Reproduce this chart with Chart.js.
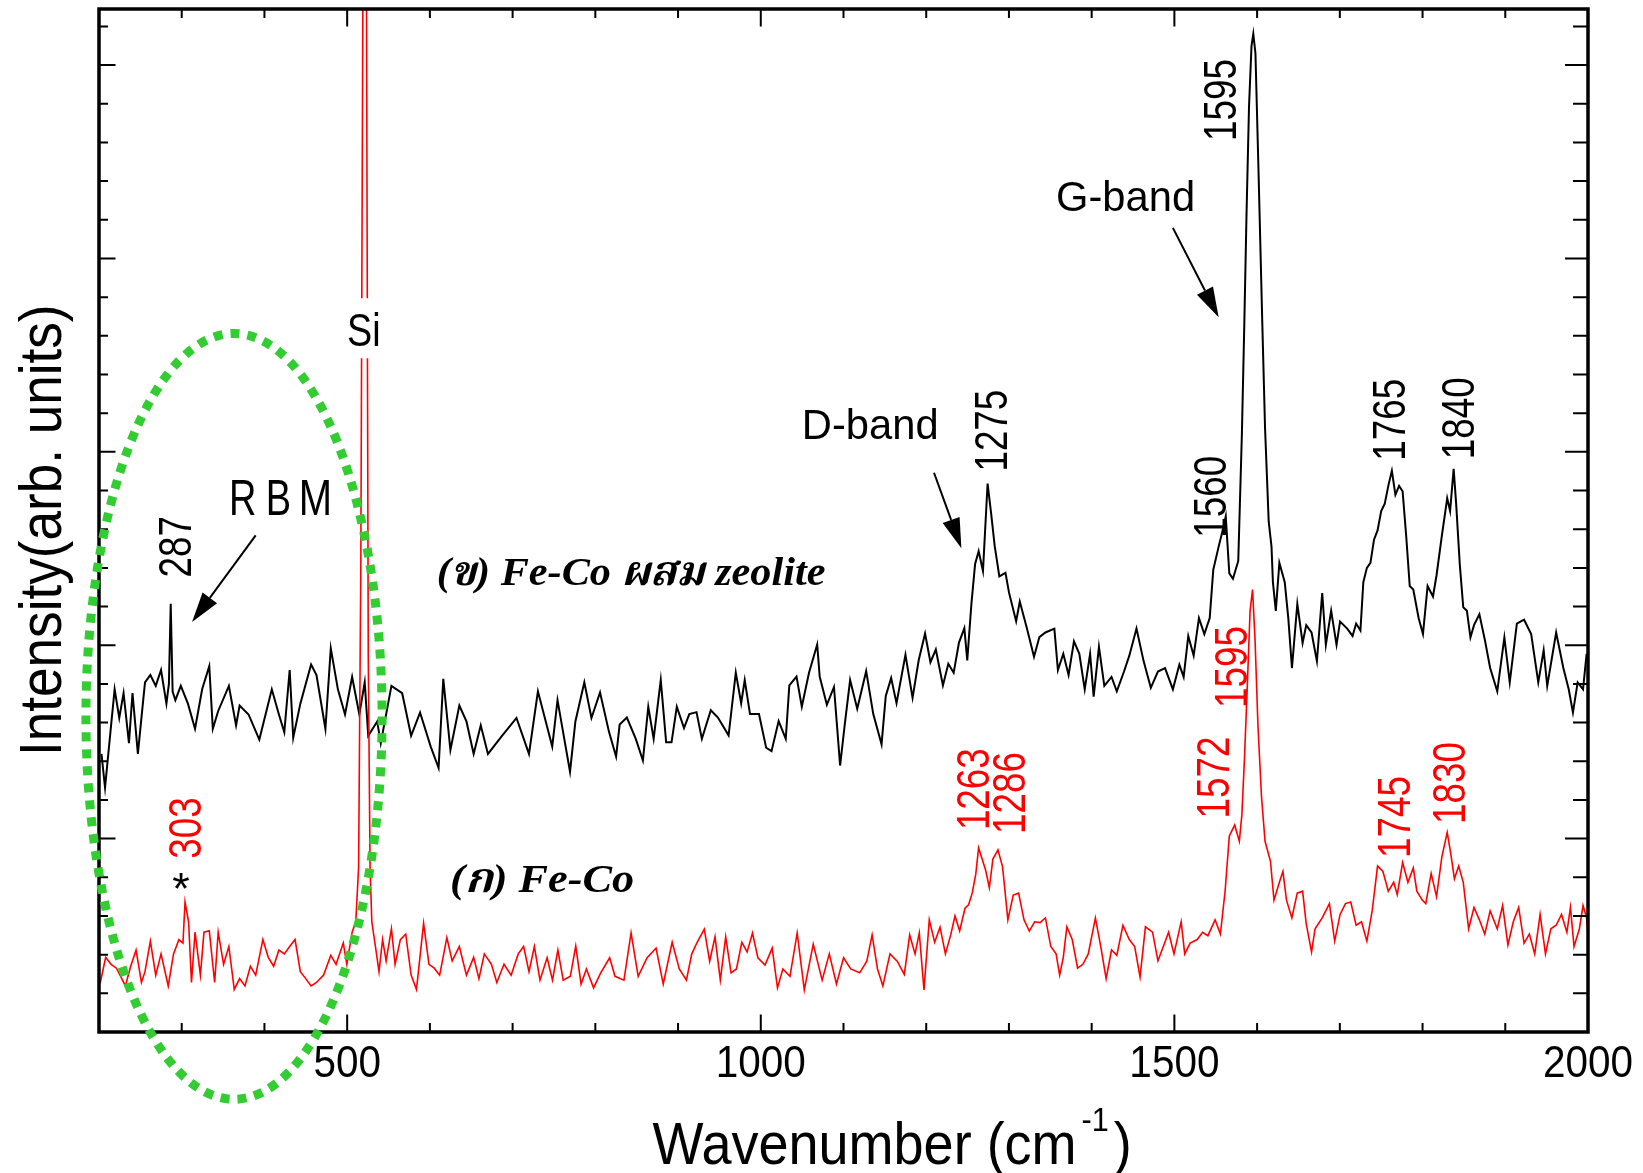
<!DOCTYPE html>
<html>
<head>
<meta charset="utf-8">
<script src="https://cdn.jsdelivr.net/npm/chart.js@4.4.1/dist/chart.umd.min.js"></script>
<style>
  html, body { margin: 0; padding: 0; background: #fff; }
  canvas { display: block; }
</style>
</head>
<body>
<canvas id="raman" width="1643" height="1173"></canvas>
<script>
// (ข) Fe-Co ผสม zeolite, black trace
const blackWn = [203, 207.3, 214.6, 218.9, 224.5, 229.7, 236.2, 240.5, 247, 251.3, 255.6, 262.1, 268.6, 275, 281.5, 284.5, 286.7, 289, 292.3, 298.9,
  307.5, 316.1, 324.7, 333.3, 337.6, 344.1, 357, 365.7, 370, 380.8, 393.8, 402.4, 408.9, 417.5, 424, 430.5, 434.8, 443.4, 456.4, 462.9,
  473.7, 480.2, 488.8, 497.4, 506, 514.7, 521.2, 525.5, 536.3, 540.6, 553.5, 566.5, 577.3, 588.1, 601, 610.5, 616.2, 624.8, 635.6, 644.2,
  652.9, 661.5, 670.2, 687.4, 704.7, 719.8, 730.6, 747.9, 754.3, 769.4, 775.9, 786.7, 795.3, 805.7, 816.5, 825.1, 829.4, 838.1, 848.9, 857.5,
  864, 870.5, 879.1, 885.6, 892.1, 898.5, 907.2, 913.6, 922.3, 928.8, 939.6, 948.2, 961.1, 969.8, 976.3, 980.6, 987, 997.8, 1006.5, 1013,
  1021.6, 1030.2, 1034.5, 1043.2, 1049.6, 1058.3, 1068.2, 1071.2, 1079.9, 1088.5, 1095.9, 1101.5, 1108, 1116.6, 1127.4, 1136, 1146, 1151.1, 1157.6, 1164.1,
  1174.9, 1183.5, 1190.9, 1198.6, 1205.1, 1211.6, 1220.2, 1226.7, 1233.2, 1239.6, 1246.1, 1249.6, 1254.7, 1259.1, 1263.4, 1268.6, 1274.2, 1278.5, 1282.8, 1288.4,
  1295.8, 1300.1, 1308.7, 1313.1, 1321.7, 1330.3, 1336.8, 1344.1, 1354.9, 1359.2, 1365.7, 1372.1, 1378.6, 1385.1, 1391.6, 1398.1, 1402.4, 1408.8, 1415.3, 1424,
  1430.4, 1439.1, 1445.5, 1454.2, 1462.8, 1471.5, 1480.1, 1488.7, 1498.2, 1506, 1511.2, 1516.8, 1523.3, 1529.7, 1536.2, 1542.7, 1547, 1553.5, 1557.8, 1562.1,
  1566.4, 1570.8, 1577.2, 1581.6, 1584.6, 1587.2, 1590.2, 1593.2, 1595.4, 1598, 1601.8, 1606.2, 1609.6, 1614, 1617.4, 1619.1, 1622.6, 1626.9, 1633.4, 1637.7,
  1642.1, 1648.6, 1655, 1659.4, 1665.8, 1672.3, 1678.7, 1683.1, 1689.5, 1696, 1700.3, 1708.9, 1715.4, 1719.7, 1724.9, 1728.4, 1732.7, 1737, 1741.3, 1745.6,
  1750, 1754.3, 1758.6, 1762.9, 1767.2, 1771.6, 1775.9, 1780.2, 1784.5, 1788.8, 1795.3, 1800.5, 1806.1, 1812.6, 1816.9, 1823.3, 1829.8, 1833.3, 1837.6, 1840.6,
  1845, 1849.2, 1853.6, 1857.9, 1862.2, 1868.7, 1875.2, 1881.7, 1890.3, 1898.9, 1905.4, 1914, 1922.7, 1931.3, 1939.9, 1946.4, 1950.7, 1961.5, 1970.2, 1976.7,
  1981.8, 1987.5, 1994, 1998.3];
const blackInt = [7.19, 6.32, 7.93, 8.86, 8.12, 8.76, 7.47, 8.76, 7.19, 8.12, 9.04, 9.23, 8.95, 9.36, 8.49, 9.0, 11.07, 8.8, 8.58, 8.95,
  8.49, 7.84, 8.86, 9.46, 7.84, 8.30, 8.95, 7.93, 8.44, 8.21, 7.56, 8.30, 8.86, 8.21, 7.75, 9.36, 7.61, 8.49, 9.50, 9.23,
  7.84, 9.92, 8.86, 8.21, 9.18, 8.21, 9.04, 7.66, 8.03, 7.47, 8.95, 8.76, 7.66, 8.26, 7.38, 6.83, 9.13, 7.29, 8.44, 8.03,
  7.19, 7.93, 7.19, 7.66, 8.12, 7.19, 8.81, 7.38, 8.58, 6.73, 8.03, 9.04, 8.12, 8.78, 7.76, 7.12, 7.95, 8.13, 7.58, 7.02,
  8.41, 7.58, 9.10, 7.49, 7.49, 8.41, 7.86, 8.22, 8.27, 7.58, 8.32, 8.13, 7.67, 9.29, 8.50, 9.10, 8.22, 8.22, 7.35, 7.26,
  8.04, 7.58, 8.96, 9.19, 8.41, 9.29, 10.02, 9.19, 8.46, 8.92, 6.89, 7.95, 9.10, 8.36, 9.33, 8.22, 7.44, 8.69, 9.15, 8.50,
  9.75, 8.64, 9.61, 10.30, 9.56, 9.89, 8.96, 9.52, 9.29, 10.07, 10.44, 9.61, 11.09, 12.10, 12.43, 11.92, 14.18, 13.40, 12.56, 11.78,
  11.87, 11.36, 10.62, 11.13, 10.44, 9.70, 10.21, 10.33, 10.43, 9.36, 9.78, 9.23, 10.10, 9.78, 8.86, 9.78, 8.67, 9.96, 8.95, 9.18,
  8.81, 9.32, 9.73, 10.43, 9.59, 8.90, 9.32, 9.41, 8.86, 9.50, 9.18, 10.24, 9.73, 10.70, 10.29, 10.70, 11.95, 12.55, 12.92, 13.33,
  11.86, 11.72, 12.18, 15.47, 18.38, 21.15, 23.92, 25.49, 25.81, 25.30, 22.17, 18.38, 15.61, 13.20, 12.55, 11.63, 10.89, 12.13, 11.63, 10.70,
  9.41, 11.07, 10.06, 10.52, 10.33, 9.59, 11.35, 10.01, 10.89, 10.01, 10.61, 10.43, 10.24, 10.56, 10.38, 11.63, 12.0, 12.13, 12.73, 12.97,
  13.47, 13.66, 14.12, 14.51, 13.89, 14.12, 13.98, 12.83, 11.53, 11.44, 10.70, 10.29, 11.53, 11.26, 11.81, 12.83, 13.80, 13.47, 14.56, 13.66,
  12.09, 10.98, 10.89, 10.20, 10.52, 10.80, 10.15, 9.41, 8.81, 10.20, 9.04, 10.56, 10.66, 10.29, 9.04, 9.87, 8.95, 10.33, 9.41, 8.86,
  8.26, 9.04, 8.86, 9.78];

// (ก) Fe-Co, red trace (Si line at ~520 runs off the top)
const redWn = [200, 201.6, 208.1, 214.6, 221.1, 225.4, 231.9, 238.3, 244.8, 251.3, 255.6, 262.1, 268.6, 275, 283.7, 290.1, 296.6, 301.5, 304, 308.3,
  311.8, 316.1, 322.6, 326.9, 333.3, 339.8, 344.1, 350.6, 357, 363.5, 370, 376.5, 383, 389.4, 398.1, 404.6, 411.1, 417.5, 424, 430.5,
  437, 443.4, 449.9, 456.4, 462.9, 471.5, 480.2, 486.6, 495.3, 499.6, 506, 510.4, 513.8, 516.5, 519.2, 521.2, 523.2, 525.5, 527.7, 529.8,
  534.2, 538.5, 542.8, 547.1, 553.5, 557.9, 564.3, 570.8, 577.3, 583.8, 592.4, 598.9, 605.3, 611.8, 620.5, 626.9, 635.6, 644.2, 652.9, 659.3,
  665.8, 674.4, 680.9, 689.6, 698.2, 706.8, 713.3, 719.8, 726.3, 733.1, 741.7, 748.2, 754.7, 761.2, 769.8, 776.3, 782.8, 789.2, 797.9, 806.5,
  817.3, 823.8, 834.6, 843.2, 851.8, 862.6, 873.4, 882.1, 892.9, 901.5, 910.1, 916.6, 923.1, 931.7, 938.2, 944.7, 951.1, 957.6, 964.1, 970.6,
  977.1, 983.5, 990, 996.5, 1005.1, 1013.8, 1020.2, 1026.7, 1035.3, 1044, 1052.6, 1063.4, 1074.2, 1082.8, 1091.5, 1100.1, 1108.7, 1119.5, 1128.2, 1134.6,
  1141.1, 1147.6, 1156.2, 1164.9, 1173.5, 1180, 1186.5, 1191.6, 1197.3, 1203.7, 1210.2, 1216.7, 1223.2, 1229.6, 1234.8, 1240.4, 1246.9, 1251.2, 1255.6, 1259.9,
  1263.3, 1267.6, 1272, 1276.3, 1280.6, 1286.7, 1292.3, 1298.7, 1305.2, 1311.7, 1318.2, 1324.6, 1331.1, 1337.6, 1344.1, 1350.6, 1357, 1361.3, 1365.7, 1370,
  1376.5, 1383, 1389.4, 1395.9, 1404.5, 1411, 1417.5, 1424, 1430.4, 1437.8, 1445.5, 1452, 1458.5, 1465, 1473.6, 1480.1, 1486.6, 1493, 1499.5, 1508.2,
  1512.5, 1519, 1527.6, 1534.1, 1540.5, 1549.2, 1555.6, 1561.3, 1566.4, 1572.9, 1578.5, 1581.6, 1584.6, 1588, 1591.5, 1594.5, 1597.5, 1601, 1605.3, 1609.6,
  1616.1, 1620.4, 1626.9, 1631.2, 1635.5, 1642, 1648.5, 1655, 1659.3, 1665.8, 1670.1, 1678.7, 1687.4, 1693.8, 1700.3, 1706.8, 1713.2, 1719.7, 1726.2, 1732.7,
  1739.1, 1745.6, 1752.1, 1758.6, 1765.1, 1769.4, 1775.9, 1782.3, 1788.8, 1793.1, 1799.6, 1803.9, 1810.4, 1816.9, 1823.3, 1829.8, 1834.1, 1838.5, 1843.7, 1849.2,
  1855.7, 1862.2, 1868.7, 1875.2, 1881.7, 1890.3, 1896.8, 1903.2, 1909.7, 1916.2, 1922.7, 1929.1, 1935.6, 1942.1, 1948.6, 1955.1, 1961.5, 1968, 1974.5, 1978.8,
  1983.1, 1989.6, 1994, 1998.3, 2000];
const redInt = [1.30, 1.28, 1.93, 1.75, 1.65, 1.47, 1.19, 1.70, 2.12, 1.28, 1.56, 2.35, 1.47, 2.02, 1.19, 2.02, 2.39, 2.30, 3.36, 2.85,
  1.28, 2.58, 1.47, 2.58, 2.62, 1.28, 2.58, 1.75, 2.21, 1.10, 1.38, 1.19, 1.70, 1.47, 2.39, 1.93, 1.70, 2.12, 2.02, 2.21,
  2.39, 1.56, 1.38, 1.19, 1.28, 1.47, 1.98, 1.75, 2.30, 1.75, 2.58, 2.85, 4.24, 12.0, 28.0, 60.0, 28.0, 9.78, 4.24, 2.85,
  2.21, 1.56, 2.39, 1.84, 2.67, 1.75, 2.39, 2.53, 1.47, 1.10, 2.81, 1.75, 1.65, 1.47, 2.44, 1.84, 2.21, 1.47, 1.93, 1.38,
  2.02, 1.75, 1.28, 1.75, 1.47, 2.02, 2.21, 1.56, 2.21, 1.34, 1.92, 1.34, 2.12, 1.34, 1.44, 2.22, 1.24, 1.63, 1.14, 1.53,
  1.92, 1.44, 1.34, 2.56, 1.44, 1.92, 2.17, 1.24, 2.32, 1.63, 1.34, 2.02, 2.32, 2.66, 1.83, 2.46, 1.34, 2.46, 1.53, 1.63,
  2.32, 2.07, 2.56, 1.92, 1.73, 2.17, 1.14, 1.63, 1.44, 2.56, 1.09, 2.27, 1.34, 2.02, 1.24, 1.92, 1.63, 1.53, 1.83, 2.51,
  1.63, 1.19, 2.02, 1.83, 1.49, 2.51, 2.02, 2.56, 1.09, 2.90, 2.32, 2.71, 2.02, 2.51, 3.00, 2.61, 3.20, 3.29, 3.59, 4.08,
  4.76, 4.47, 4.17, 3.73, 4.47, 4.71, 4.27, 2.90, 3.54, 3.59, 2.90, 2.61, 2.85, 2.83, 2.95, 2.21, 2.02, 1.47, 1.93, 2.72,
  2.39, 1.65, 1.75, 2.02, 2.95, 2.21, 1.38, 2.12, 1.98, 2.76, 2.39, 2.21, 1.42, 2.72, 2.58, 1.84, 2.21, 2.58, 2.02, 2.85,
  2.02, 2.30, 2.39, 2.58, 2.49, 2.90, 2.53, 3.64, 5.07, 5.35, 4.93, 5.62, 7.01, 8.86, 10.89, 11.44, 10.15, 7.93, 6.09, 4.93,
  4.42, 3.41, 3.87, 4.15, 3.41, 2.95, 3.59, 3.64, 2.81, 2.07, 2.67, 2.95, 3.32, 2.35, 3.04, 3.32, 3.36, 2.76, 2.85, 2.35,
  3.13, 4.29, 4.15, 3.64, 3.87, 3.55, 4.38, 3.87, 4.24, 3.64, 3.41, 3.32, 4.10, 3.50, 4.52, 5.16, 4.61, 3.96, 4.29, 3.87,
  2.67, 3.22, 2.90, 2.53, 3.13, 2.67, 3.27, 2.25, 2.85, 3.22, 2.30, 2.53, 2.02, 3.04, 2.02, 2.67, 2.76, 3.04, 2.58, 3.22,
  2.21, 2.67, 3.27, 2.95, 2.49];

// axis ticks
const xTicks = [300, 400, 500, 600, 700, 800, 900, 1000, 1100, 1200, 1300, 1400, 1500, 1600, 1700, 1800, 1900];
const xLabels = [500, 1000, 1500, 2000];
const yTicks = [1, 2, 3, 4, 5, 6, 7, 8, 9, 10, 11, 12, 13, 14, 15, 16, 17, 18, 19, 20, 21, 22, 23, 24, 25, 26];

// peak labels, anchored at the start of the rotated text (wavenumber, intensity)
const peakLabels = [
  { t: '287', x: 311.7, y: 11.75, c: '#000' },
  { t: '303', x: 323.8, y: 4.48, c: '#ff0000' },
  { t: '1275', x: 1297.7, y: 14.49, c: '#000' },
  { t: '1595', x: 1575, y: 23.04, c: '#000' },
  { t: '1560', x: 1562, y: 12.78, c: '#000' },
  { t: '1765', x: 1778.8, y: 14.77, c: '#000' },
  { t: '1840', x: 1862.2, y: 14.81, c: '#000' },
  { t: '1595', x: 1587.8, y: 8.38, c: '#ff0000' },
  { t: '1572', x: 1566, y: 5.52, c: '#ff0000' },
  { t: '1745', x: 1784.4, y: 4.50, c: '#ff0000' },
  { t: '1830', x: 1851.3, y: 5.38, c: '#ff0000' },
  { t: '1263', x: 1275.9, y: 5.22, c: '#ff0000' },
  { t: '1286', x: 1319.4, y: 5.12, c: '#ff0000' }
];

const SANS = '"Liberation Sans", Arial, Helvetica, sans-serif';
const SERIF = '"Liberation Serif", "Times New Roman", "Noto Serif Thai", "Noto Sans Thai", Loma, Garuda, Norasi, serif';

function txt(ctx, s, x, y, o) {
  ctx.save();
  ctx.translate(x, y);
  if (o.rot) ctx.rotate(o.rot);
  ctx.scale(o.sx || 1, 1);
  ctx.font = (o.font || '') + ' ' + o.size + 'px ' + (o.family || SANS);
  ctx.fillStyle = o.color || '#000';
  ctx.textAlign = o.align || 'left';
  ctx.textBaseline = 'alphabetic';
  ctx.fillText(s, 0, 0);
  ctx.restore();
}

function textWidth(ctx, s, o) {
  ctx.save();
  ctx.font = (o.font || '') + ' ' + o.size + 'px ' + (o.family || SANS);
  const w = ctx.measureText(s).width * (o.sx || 1);
  ctx.restore();
  return w;
}

function arrow(ctx, x1, y1, x2, y2) {
  const ang = Math.atan2(y2 - y1, x2 - x1);
  const len = 30, hw = 9;
  const bx = x2 - len * Math.cos(ang), by = y2 - len * Math.sin(ang);
  ctx.save();
  ctx.strokeStyle = '#000';
  ctx.lineWidth = 2;
  ctx.beginPath();
  ctx.moveTo(x1, y1);
  ctx.lineTo(bx, by);
  ctx.stroke();
  ctx.fillStyle = '#000';
  ctx.beginPath();
  ctx.moveTo(x2, y2);
  ctx.lineTo(bx + hw * Math.sin(ang), by - hw * Math.cos(ang));
  ctx.lineTo(bx - hw * Math.sin(ang), by + hw * Math.cos(ang));
  ctx.closePath();
  ctx.fill();
  ctx.restore();
}

const overlay = {
  id: 'overlay',
  afterDraw(chart) {
    const { ctx, chartArea: a } = chart;
    const xs = chart.scales.x, ys = chart.scales.y;
    const px = v => xs.getPixelForValue(v);
    const py = v => ys.getPixelForValue(v);

    // Si label on a white patch over the silicon line
    ctx.fillStyle = '#fff';
    ctx.fillRect(px(499.8) - 3, py(17.73) - 48, 40, 60);
    txt(ctx, 'Si', px(499.8), py(17.73), { size: 46, sx: 0.82 });

    // RBM, spaced letters
    const rx = px(357.2), ry = py(13.37);
    txt(ctx, 'R', rx, ry, { size: 50, sx: 0.76 });
    txt(ctx, 'B', rx + 36.7, ry, { size: 50, sx: 0.76 });
    txt(ctx, 'M', rx + 69.6, ry, { size: 50, sx: 0.8 });

    txt(ctx, 'D-band', px(1049.6), py(15.32), { size: 43, sx: 0.97 });
    txt(ctx, 'G-band', px(1356.9), py(21.22), { size: 43, sx: 0.97 });

    txt(ctx, '(ข) Fe-Co ผสม zeolite', px(608.2), py(11.56), { size: 41, sx: 1.03, font: 'italic bold', family: SERIF });
    txt(ctx, '(ก) Fe-Co', px(624.3), py(3.63), { size: 41, sx: 1.08, font: 'italic bold', family: SERIF });

    txt(ctx, '*', px(299), py(3.96) + 25, { size: 45, align: 'center' });

    peakLabels.forEach(p => {
      txt(ctx, p.t, px(p.x), py(p.y), { size: 46, sx: 0.8, rot: -Math.PI / 2, color: p.c });
    });

    arrow(ctx, px(389.4), py(12.84), px(312.5), py(10.6));
    arrow(ctx, px(1209.4), py(14.46), px(1242.5), py(12.51));
    arrow(ctx, px(1498.2), py(20.79), px(1553.5), py(18.48));

    // frame and inward ticks
    ctx.save();
    ctx.strokeStyle = '#000';
    ctx.lineWidth = 2;
    ctx.beginPath();
    xTicks.forEach(v => {
      const X = px(v);
      const L = v % 500 === 0 ? 17.5 : 9;
      ctx.moveTo(X, a.bottom); ctx.lineTo(X, a.bottom - L);
      ctx.moveTo(X, a.top); ctx.lineTo(X, a.top + L);
    });
    yTicks.forEach(v => {
      const Y = py(v);
      const major = v % 5 === 0;
      ctx.moveTo(a.left, Y); ctx.lineTo(a.left + (major ? 16.5 : 9), Y);
      ctx.moveTo(a.right, Y); ctx.lineTo(a.right - (major ? 23 : 15), Y);
    });
    ctx.stroke();
    ctx.lineWidth = 3.5;
    ctx.strokeRect(a.left, a.top, a.right - a.left, a.bottom - a.top);
    ctx.restore();

    xLabels.forEach(v => {
      txt(ctx, String(v), px(v), a.bottom + 45, { size: 44, sx: 0.92, align: 'center' });
    });

    // axis titles
    const t1 = { size: 60, sx: 0.9 };
    const sup = { size: 34, sx: 0.9 };
    let tx = 652.5;
    const tb = a.bottom + 132;
    txt(ctx, 'Wavenumber (cm', tx, tb, t1);
    tx += textWidth(ctx, 'Wavenumber (cm', t1) + 5;
    txt(ctx, '-1', tx, tb - 33, sup);
    tx += textWidth(ctx, '-1', sup) + 5;
    txt(ctx, ')', tx, tb, t1);

    txt(ctx, 'Intensity(arb. units)', a.left - 38, 756, { size: 59, sx: 0.9, rot: -Math.PI / 2 });

    // dotted RBM ellipse
    ctx.save();
    ctx.strokeStyle = '#33cc33';
    ctx.lineWidth = 9;
    ctx.setLineDash([9, 8]);
    ctx.beginPath();
    ctx.ellipse(px(363.2), py(8.16), px(363.2 + 179) - px(363.2), py(0) - py(9.9), 0, 0, Math.PI * 2);
    ctx.stroke();
    ctx.restore();
  }
};

new Chart(document.getElementById('raman'), {
  type: 'line',
  data: {
    datasets: [
      {
        label: '(ก) Fe-Co',
        data: redWn.map((w, i) => ({ x: w, y: redInt[i] })),
        borderColor: '#ff0000',
        borderWidth: 1.6,
        pointRadius: 0,
        tension: 0,
        order: 0
      },
      {
        label: '(ข) Fe-Co ผสม zeolite',
        data: blackWn.map((w, i) => ({ x: w, y: blackInt[i] })),
        borderColor: '#000',
        borderWidth: 2,
        pointRadius: 0,
        tension: 0,
        order: 1
      }
    ]
  },
  options: {
    responsive: false,
    animation: false,
    events: [],
    layout: { padding: { top: 9, right: 55, left: 0, bottom: 0 } },
    plugins: {
      legend: { display: false },
      tooltip: { enabled: false }
    },
    scales: {
      x: {
        type: 'linear',
        min: 200,
        max: 2000,
        grid: { display: false },
        border: { display: false },
        ticks: { display: false },
        afterFit: s => { s.height = 141; }
      },
      y: {
        min: 0,
        max: 26.45,
        grid: { display: false },
        border: { display: false },
        ticks: { display: false },
        afterFit: s => { s.width = 99; }
      }
    }
  },
  plugins: [overlay]
});
</script>
</body>
</html>
